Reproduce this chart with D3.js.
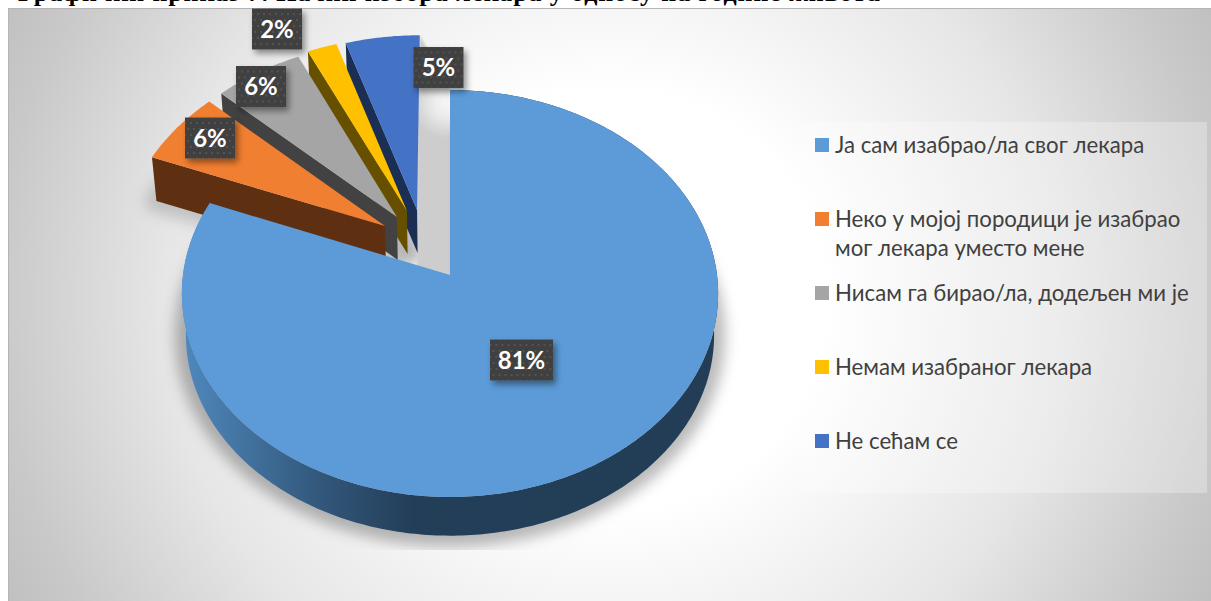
<!DOCTYPE html>
<html lang="sr">
<head>
<meta charset="utf-8">
<title>Избор лекара</title>
<script src="https://cdn.jsdelivr.net/npm/d3@7"></script>
<style>
  html, body { margin: 0; padding: 0; background: #fff; overflow: hidden; }
  svg { display: block; }
</style>
</head>
<body>
<svg id="chart" width="1211" height="601"></svg>
<script>
// Chart content
const categories = [
  "Ја сам изабрао/ла свог лекара",
  "Неко у мојој породици је изабрао|мог лекара уместо мене",
  "Нисам га бирао/ла, додељен ми је",
  "Немам изабраног лекара",
  "Не сећам се"
];
const shares = [81, 6, 6, 2, 5];
const topColors = ["#5c9bd8", "#f17f31", "#a5a5a5", "#ffc000", "#4472c4"];
const sideColors = ["#223d55", "#5f2f12", "#424242", "#665000", "#1b2f55"];
const titleText = "Графички приказ 7. Начин избора лекара у односу на године живота";

// How far each slice is pulled out of the pie, in pie radii on the ground plane
const explodeX = [0, -0.249, -0.204, -0.166, -0.127];
const explodeY = [0, -0.248, -0.295, -0.327, -0.332];

// Label box centres in page pixels, one per slice
const labelCentres = [[521.5, 360], [210, 138], [261, 86.5], [277, 29], [438.5, 67.5]];

// Perspective of the tilted pie
const cx = 450, cy = 275, A = 267, B = 201.8, K = 0.0909;
const thickness = 42, lowerScale = 0.985;

const svg = d3.select("#chart");
const defs = svg.append("defs");

function project(x, y) {
  const d = 1 - K * y;
  return [cx + A * x / d, cy + B * y / d];
}
function lower(p) {
  return [cx + lowerScale * (p[0] - cx), cy + thickness + lowerScale * (p[1] - cy)];
}

const slices = d3.pie().sort(null).value(d => d)(shares);

function rim(i) {
  const s = slices[i];
  const n = Math.max(2, Math.ceil((s.endAngle - s.startAngle) / 0.015));
  return d3.range(n + 1).map(j => {
    const t = s.startAngle + (s.endAngle - s.startAngle) * j / n;
    return project(Math.sin(t) + explodeX[i], -Math.cos(t) + explodeY[i]);
  });
}
const apex = i => project(explodeX[i], explodeY[i]);
const line = d3.line();
const closed = pts => line(pts) + "Z";

// Page-wide gradients and effects
const bg = defs.append("radialGradient").attr("id", "bg")
  .attr("gradientUnits", "userSpaceOnUse")
  .attr("cx", 0).attr("cy", 0).attr("r", 1)
  .attr("gradientTransform", "translate(610,300) scale(720,700)");
[[0, "#ffffff"], [0.3, "#ffffff"], [0.62, "#e6e6e6"], [0.85, "#c9c9c9"], [1, "#bababa"]]
  .forEach(([o, c]) => bg.append("stop").attr("offset", o).attr("stop-color", c));

const wall = defs.append("linearGradient").attr("id", "wall")
  .attr("gradientUnits", "userSpaceOnUse")
  .attr("x1", 185).attr("x2", 715).attr("y1", 0).attr("y2", 0);
[[0, "#4f88bc"], [0.25, "#33587c"], [0.43, "#233e58"], [1, "#223d55"]]
  .forEach(([o, c]) => wall.append("stop").attr("offset", o).attr("stop-color", c));

const gapFill = defs.append("radialGradient").attr("id", "gapFill")
  .attr("gradientUnits", "userSpaceOnUse")
  .attr("cx", 446).attr("cy", 104).attr("r", 34);
[[0, "#f6f6f6"], [0.35, "#ececec"], [1, "#cdcdcd"]]
  .forEach(([o, c]) => gapFill.append("stop").attr("offset", o).attr("stop-color", c));

defs.append("filter").attr("id", "soft").attr("x", "-20%").attr("y", "-20%")
  .attr("width", "140%").attr("height", "140%")
  .append("feGaussianBlur").attr("stdDeviation", 7);
defs.append("filter").attr("id", "softEdge").attr("x", "-20%").attr("y", "-20%")
  .attr("width", "140%").attr("height", "140%")
  .append("feGaussianBlur").attr("stdDeviation", 1.2);
defs.append("filter").attr("id", "boxShadow").attr("x", "-30%").attr("y", "-30%")
  .attr("width", "170%").attr("height", "170%")
  .append("feDropShadow").attr("dx", 3).attr("dy", 4).attr("stdDeviation", 3)
  .attr("flood-color", "#000").attr("flood-opacity", 0.42);
defs.append("clipPath").attr("id", "shadowClip")
  .append("rect").attr("x", 9).attr("y", 8).attr("width", 733).attr("height", 542);

const dots = defs.append("pattern").attr("id", "dots")
  .attr("patternUnits", "userSpaceOnUse").attr("width", 12).attr("height", 12);
dots.append("rect").attr("width", 12).attr("height", 12).attr("fill", "#3f3f3f");
[[2, 3], [8, 3], [5, 9], [11, 9]].forEach(([x, y]) =>
  dots.append("circle").attr("cx", x).attr("cy", y).attr("r", 1).attr("fill", "#5a5a5a"));

// Heading, cut off by the top of the page
svg.append("text")
  .attr("x", 18).attr("y", 0.5)
  .attr("textLength", 862)
  .attr("font-family", "'Liberation Serif', serif")
  .attr("font-weight", 700).attr("font-size", 26)
  .attr("fill", "#000")
  .text(titleText);

// Chart area
svg.append("rect").attr("x", 8.5).attr("y", 8.5).attr("width", 1203).attr("height", 593)
  .attr("fill", "url(#bg)").attr("stroke", "#b5b5b5").attr("stroke-width", 1);

// Soft shadow under the slices
const shadow = svg.append("g").attr("clip-path", "url(#shadowClip)");
shadow.append("g").attr("filter", "url(#soft)")
  .selectAll("path").data(shares).join("path")
  .attr("d", (d, i) => closed([apex(i), ...rim(i)].map(lower)))
  .attr("fill", "#000").attr("stroke", "#000").attr("stroke-width", 22)
  .attr("stroke-linejoin", "round")
  .attr("opacity", (d, i) => i === 0 ? 0.27 : 0.16);

// Shaded gap between the last slice and the large one
const lastIndex = shares.length - 1;
const lastRim = rim(lastIndex);
const gapEnd = project(Math.sin(0), -Math.cos(0));
svg.append("path")
  .attr("d", closed([apex(lastIndex), lastRim[lastRim.length - 1], gapEnd, apex(0), [gapEnd[0], cy + 20], [apex(lastIndex)[0], cy + 20]]))
  .attr("fill", "url(#gapFill)").attr("filter", "url(#softEdge)");

// Slices are painted from the back of the pie to the front
const order = d3.range(shares.length).reverse();
order.forEach(i => {
  const g = svg.append("g").attr("class", "slice");
  const r = rim(i);
  const a = apex(i);
  if (i === 0) {
    g.append("path")
      .attr("d", closed([...r, ...r.map(lower).reverse()]))
      .attr("fill", "url(#wall)");
  } else {
    g.append("path")
      .attr("d", closed([a, r[0], lower(r[0]), lower(a)]))
      .attr("fill", sideColors[i]);
  }
  g.append("path").attr("d", closed([a, ...r])).attr("fill", topColors[i]);
});

// Percentage labels
const labels = svg.append("g").selectAll("g").data(shares).join("g")
  .attr("transform", (d, i) => `translate(${labelCentres[i][0]},${labelCentres[i][1]})`);
labels.append("rect")
  .attr("x", d => d > 9 ? -31.5 : -25).attr("y", -20.5)
  .attr("width", d => d > 9 ? 63 : 50).attr("height", 41)
  .attr("fill", "url(#dots)").attr("filter", "url(#boxShadow)");
labels.append("text")
  .attr("text-anchor", "middle").attr("y", 8.5)
  .attr("font-family", "Lato, 'Open Sans', sans-serif")
  .attr("font-weight", 700).attr("font-size", 24)
  .attr("fill", "#fff")
  .text(d => d + "%");

// Legend
const legendBox = { x: 803, y: 122, w: 404, h: 371 };
svg.append("rect").attr("x", legendBox.x).attr("y", legendBox.y)
  .attr("width", legendBox.w).attr("height", legendBox.h)
  .attr("fill", "#fff").attr("opacity", 0.28);
const legendRow = d3.scaleLinear().domain([0, 1]).range([legendBox.y + 23, legendBox.y + 97]);
const legend = svg.append("g").selectAll("g").data(categories).join("g")
  .attr("transform", (d, i) => `translate(815,${legendRow(i)})`);
legend.append("rect").attr("y", -7).attr("width", 14).attr("height", 14)
  .attr("fill", (d, i) => topColors[i]);
const legendText = legend.append("text")
  .attr("font-family", "Lato, 'Open Sans', sans-serif")
  .attr("font-size", 22.2)
  .attr("fill", "#404040");
legendText.selectAll("tspan").data(d => d.split("|")).join("tspan")
  .attr("x", 20).attr("y", (d, j) => 7.5 + j * 29)
  .text(d => d);
</script>
</body>
</html>
